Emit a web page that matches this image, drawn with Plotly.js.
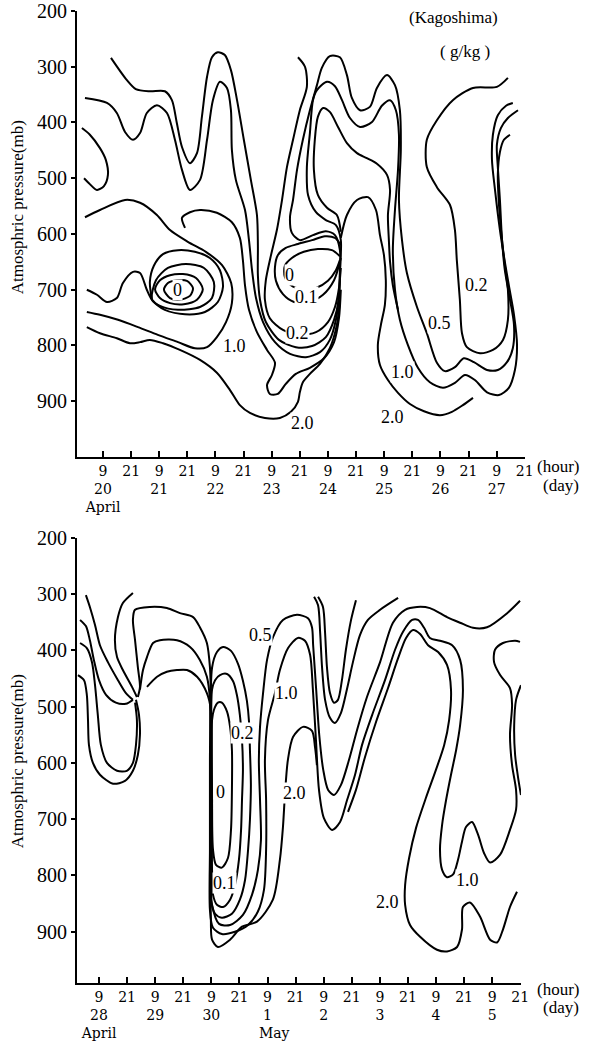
<!DOCTYPE html>
<html>
<head>
<meta charset="utf-8">
<script src="https://cdn.plot.ly/plotly-3.0.1.min.js"></script>
<style>
  html, body { margin: 0; padding: 0; background: #fff; }
  #chart { width: 597px; height: 1046px; }
</style>
</head>
<body>
<div id="chart"></div>
<script>
// Mixing ratio isolines (g/kg) over Kagoshima.
// x: hours counted from 00h of the first day of each panel (20 Apr / 28 Apr)
// y: pressure in mb

// ---------- panel 1 : 20 - 27 April ----------
const a1_h = [12.4,19.2,23.0,29.0,35.4,38.4,40.5,42.7,46.1,49.1,51.2,53.4,55.5,58.0,61.0,63.6,66.2,69.1,72.1,74.7,75.1,75.1,76.0,78.5,84.1,91.3,98.2,104.1,107.6,109.7,110.1,110.1,108.0,104.1,98.6,93.0,89.6,88.8,90.1,91.8,94.3,97.3,100.3,102.4,105.8,110.1,113.1,115.2,118.7,122.9,125.9,130.2,133.6,135.7,136.1,135.3,136.6,138.7,143.0,147.2,151.5,154.9,159.2,163.0,167.3,172.9,177.5,181.4,183.9,184.4,182.7,180.5,179.3,178.4,177.5,177.1,178.8,181.8,186.1];
const a1_p = [284,324,340,344,344,360,401,444,473,455,390,318,283,274,279,306,360,431,503,566,620,674,718,758,790,803,801,785,754,715,679,629,602,595,602,611,598,570,539,485,431,378,333,302,281,283,315,356,378,372,338,315,333,378,449,539,611,670,731,778,831,846,839,823,830,844,844,830,805,763,718,665,611,539,480,440,410,392,378];

const b1_h = [1.3,10.7,14.9,18.4,21.8,24.8,27.7,32.0,36.3,39.7,42.7,46.1,50.4,53.4,55.9,58.9,61.9,63.6,64.0,65.7,69.6,71.3,72.6,74.3,77.3,82.4,88.8,95.6,101.6,105.8,108.4,109.7,110.1,110.5,108.4,104.1,99.9,96.5,96.0,97.3,98.6,100.3,104.6,108.0,111.0,114.4,118.7,123.8,128.0,131.5,134.0,135.3,134.9,133.6,132.7,133.6,135.7,139.1,143.4,148.5,154.1,159.2,163.5,167.7,172.9,178.0,182.2,184.8,185.7,184.4,182.2,180.5,178.4,176.3,175.0,175.4,177.5,181.0,183.9];
const b1_p = [356,365,383,417,431,419,383,369,383,431,485,521,503,431,360,327,338,378,449,503,557,611,665,715,758,794,815,821,812,790,754,710,665,611,584,575,561,530,480,419,360,342,327,335,360,392,408,399,370,360,378,422,485,557,629,700,754,799,840,866,876,867,853,862,884,889,876,844,799,745,692,650,593,521,467,422,387,370,365];

const hook1_h = [0,3.4,7.7,10.2,11.1,9.4,6.4,3.0,0.9];
const hook1_p = [410,422,446,467,494,514,521,509,500];

const ring1_h = [1.3,7.7,18.4,24.8,32.0,37.6,45.2,52.9,59.8,63.7,64.0,61.5,57.6,53.4,48.2,41.0,32.4,23.9,15.4,7.7,2.1];
const ring1_p = [570,557,539,544,566,593,614,632,656,688,724,758,785,803,805,794,781,767,754,745,740];

const tongue1_h = [44.0,42.7,46.1,50.4,57.6,64.0,67.4,68.7,69.6,71.3,74.7,79.0,82.4,81.1,79.0,80.2,83.6,87.0,91.3,97.3,103.3,107.6,109.7,110.5];
const tongue1_p = [589,571,561,557,562,579,607,647,692,736,776,808,831,853,871,887,887,869,851,840,823,794,751,700];

const wrap1_h = [2.1,6.4,10.7,14.9,17.5,21.8,24.8,27.7,29.9,35.4,44.0,52.5,58.0,60.2,58.9,54.6,48.2,41.0,34.6,30.7,29.0,29.9];
const wrap1_p = [700,709,722,715,688,668,670,700,718,736,744,740,722,695,665,643,632,629,636,657,686,718];

const cellC_h = [29.9,31.6,36.7,44.4,52.1,56.3,55.5,50.4,41.0,33.3,29.9];
const cellC_p = [718,683,661,654,661,686,715,731,736,729,718];
const cellB_h = [31.2,33.3,37.6,43.1,48.7,51.6,49.1,43.5,37.6,33.3,31.2];
const cellB_p = [699,683,674,672,679,699,718,726,724,715,699];
const cellA_h = [35.0,36.7,40.5,44.8,47.4,46.1,41.8,37.6,35.0];
const cellA_p = [700,688,683,684,697,711,718,715,700];

const dry0_h = [110.1,106.7,100.7,94.7,89.6,86.6,86.6,89.2,93.9,99.9,105.0,108.4,110.1];
const dry0_p = [640,629,627,632,643,657,677,692,699,697,684,665,647];
const dry01_h = [110.5,108.0,103.7,98.2,92.2,87.0,83.6,82.4,82.8,85.8,90.5,96.9,102.9,107.6,110.5];
const dry01_p = [620,607,604,611,618,625,638,659,684,708,722,722,709,683,643];
const dry02_h = [92.2,95.2,96.0,93.0,90.1,87.5,85.4,83.2,80.7,78.5,78.1,80.2,85.8,93.0,99.9,105.0,108.0,109.7,110.5];
const dry02_p = [283,300,336,378,431,480,539,593,638,683,718,751,772,781,776,758,731,697,661];

const peak3_h = [134.9,132.7,131.5,131.0,130.6,131.5,130.2,125.9,121.6,117.4,113.1,109.3,105.8,102.9,100.7,99.4,99.0,100.7,104.6,108.8,110.5];
const peak3_p = [736,692,650,611,566,521,494,474,464,455,437,408,381,374,390,431,485,530,553,566,596];

const wet1_h = [2.1,7.7,14.9,20.5,24.8,29.0,34.6,41.8,50.4,57.6,63.2,67.4,71.7,78.1,84.5,89.2,92.2,93.0,94.3,97.3,101.6,105.8,108.8,110.1];
const wet1_p = [767,778,787,796,794,790,796,808,826,849,880,907,921,930,930,919,901,884,866,851,833,805,763,718];

const wet2_h = [110.5,113.1,117.4,122.1,125.5,127.2,128.9,129.7,129.3,127.6,126.3,127.2,130.6,134.9,140.0,146.0,152.8,157.9,162.6,166.9];
const wet2_p = [607,566,539,534,557,602,638,683,727,763,799,835,862,885,905,918,925,919,907,894];

const east02_h = [181.8,177.1,166.9,158.3,151.5,147.2,147.2,151.5,157.1,159.2,160.0,161.3,162.2,164.3,169.9,175.4,179.7,181.8,181.8,180.5,179.3,178.0,177.5,178.4,180.1,182.7];
const east02_p = [320,336,338,360,396,431,480,516,548,593,647,718,778,803,814,808,790,754,700,656,611,548,494,453,431,422];

const labels1_text = ['0','0','0.1','0.2','1.0','2.0','0.2','0.5','1.0','2.0'];
const labels1_h = [41.0,88.8,96.0,91.8,65.3,94.3,168.6,152.8,137.0,132.7];
const labels1_p = [700,674,713,777,801,939,692,760,848,928];

// ---------- panel 2 : 28 April - 5 May ----------
const v1_h = [3.4,5.1,7.3,9.4,12.8,17.1,20.5,23.5];
const v1_p = [302,323,355,391,421,453,476,488];
const v2_h = [23.5,19.2,17.1,15.8,16.7,19.2,23.1,25.2];
const v2_p = [298,316,341,382,412,435,465,483];
const v3_h = [0.9,3.4,5.1,6.8,9.0,12.0,16.2,20.5,23.5];
const v3_p = [346,357,382,417,453,479,493,495,488];
const v4_h = [0.9,3.8,6.0,7.3,8.5,9.8,12.4,16.7,20.9,23.5,24.8,25.2,24.4];
const v4_p = [387,396,421,462,515,568,600,614,614,600,568,524,493];
const v5_h = [0,2.6,3.8,4.3,4.7,6.4,9.4,15.0,20.1,23.5,25.6,26.5,26.1,24.8];
const v5_p = [444,453,479,524,568,600,621,637,632,614,586,550,515,488];

const half_h = [25.6,26.5,25.6,24.4,23.5,24.4,30.8,38.0,43.6,49.2,52.1,55.1,56.4,56.8,56.8,56.8,56.8,57.3,60.3,65.0,70.5,74.4,76.9,78.2,77.8,77.3,77.8,79.1,80.8,83.4,87.6,93.6,98.3,100.0,100.5,101.8,103.1,104.8,106.9,109.4,112.4,115.8,119.3,123.5,129.1,134.6,139.8,144.9,150.4,157.7,163.3,168.8,174.8,183.4,188.9];
const half_p = [483,465,430,382,346,328,323,325,334,341,359,387,430,488,595,701,808,852,886,888,870,834,790,737,666,595,536,476,417,376,346,337,343,359,391,470,550,612,648,657,639,595,541,483,421,351,328,323,325,341,351,360,359,334,312];

const one_h = [26.5,27.8,29.5,32.1,35.0,42.3,47.9,52.1,55.1,56.4,56.4,56.4,56.4,57.7,61.5,67.1,72.7,76.9,79.5,80.4,80.4,79.9,81.2,84.2,86.3,89.8,94.0,97.0,99.2,100.4,101.7,103.0,105.1,108.6,112.0,115.0,118.4,121.4,125.7,131.2,135.5,138.9,142.8,145.3,147.9,150.4,154.7,159.9,163.3,164.5,163.3,161.6,159.4,157.3,155.6,154.7,155.6,157.7,160.3,162.4,164.1,165.8,168.4,171.0,173.5,176.1,180.4,184.6,187.2,187.2,185.5,184.6,185.5,184.6,180.4,177.8,178.2,181.6,186.8,188.9];
const one_p = [470,435,412,387,382,382,394,417,447,488,595,754,861,893,904,900,888,864,825,754,666,595,524,476,435,396,378,383,408,470,559,648,698,719,705,666,621,568,515,453,399,367,346,346,360,378,383,391,417,470,533,577,621,666,710,754,790,803,798,772,740,714,705,728,760,777,763,719,683,648,604,550,497,467,444,421,399,387,383,385];

const two_h = [29.5,33.8,38.0,42.3,46.6,50.9,55.1,56.8,56.8,56.8,57.3,59.8,65.0,70.1,76.5,83.3,86.3,87.6,88.5,89.7,91.9,96.2,100.0,101.3,102.1];
const two_p = [465,447,438,435,435,447,476,506,666,879,914,927,914,891,882,843,772,714,653,595,554,536,543,572,604];

const twoEast_h = [115.4,118.8,122.7,127.4,132.5,136.8,140.2,143.2,146.2,149.6,153.9,157.7,159.4,158.6,156.5,153.0,148.7,144.5,141.5,139.8,139.8,141.9,146.2,153.4,157.7,162.0,164.1,164.5,167.5,171.8,176.1,179.1,181.6,184.6,187.6];
const twoEast_p = [687,648,589,527,467,414,378,364,371,391,403,426,470,524,568,612,662,715,769,817,852,888,909,932,935,927,896,856,848,873,914,919,896,856,829];

const notchA_h = [102.6,104.7,105.6,106.4,107.7,109.4,111.1,112.8,114.5,116.7,118.8];
const notchA_p = [305,323,369,430,476,493,488,453,399,346,311];
const notchB_h = [100.9,102.6,103.5,104.3,105.6,107.7,109.8,112.4,114.9,117.5,120.5,123.9,129.1,136.8];
const notchB_p = [305,320,369,430,488,520,529,511,470,421,373,346,328,307];

const pk0_h = [57.3,58.1,59.8,61.5,63.7,65.0,65.8,65.8,65.4,64.1,61.5,59.0,57.7,57.3,57.3];
const pk0_p = [524,506,493,493,509,536,577,648,719,769,786,781,754,666,524];
const pk01_h = [57.3,58.6,60.7,63.7,66.3,67.9,69.2,70.1,70.5,70.1,69.7,68.8,67.1,65.0,62.0,59.4,57.7,57.3,57.3,57.3];
const pk01_p = [470,453,444,442,455,479,515,559,612,666,719,772,817,843,856,852,834,790,666,470];
const pk02_h = [57.3,59.4,62.0,65.4,68.4,70.5,72.2,73.1,73.5,73.9,73.5,72.7,71.4,69.2,65.8,61.5,58.6,56.8,56.8,57.3];
const pk02_p = [431,403,394,401,424,454,490,527,577,639,701,754,808,843,868,875,868,843,666,431];

const edge_h = [189.3,187.2,186.4,186.8,188.1,189.3];
const edge_p = [462,488,533,586,627,657];

const labels2_text = ['0.5','1.0','0.2','0','2.0','0.1','2.0','1.0'];
const labels2_h = [77.8,89.3,70.1,60.7,92.7,62.8,132.1,166.3];
const labels2_p = [373,476,547,651,653,813,847,808];

// ---------- axis labels ----------
const hourTicks = [9,21,33,45,57,69,81,93,105,117,129,141,153,165,177,189];
const ticks1 = ['9<br>20<br>April','21','9<br>21','21','9<br>22','21','9<br>23','21','9<br>24','21','9<br>25','21','9<br>26','21','9<br>27','21'];
const ticks2 = ['9<br>28<br>April','21','9<br>29','21','9<br>30','21','9<br>1<br>&nbsp;&nbsp;&nbsp;May','21','9<br>2','21','9<br>3','21','9<br>4','21','9<br>5','21'];
const pressTicks = [200,300,400,500,600,700,800,900];

const SERIF = 'Liberation Serif';
const TICKSERIF = 'DejaVu Serif';

function iso(h, p, panel) {
  return {
    x: h, y: p, mode: 'lines', hoverinfo: 'skip',
    xaxis: panel === 1 ? 'x' : 'x2', yaxis: panel === 1 ? 'y' : 'y2',
    line: { color: '#000', width: 2, shape: 'spline', smoothing: 0.8 }
  };
}

const traces = [
  iso(a1_h, a1_p, 1), iso(b1_h, b1_p, 1), iso(hook1_h, hook1_p, 1),
  iso(ring1_h, ring1_p, 1), iso(tongue1_h, tongue1_p, 1), iso(wrap1_h, wrap1_p, 1),
  iso(cellC_h, cellC_p, 1), iso(cellB_h, cellB_p, 1), iso(cellA_h, cellA_p, 1),
  iso(dry0_h, dry0_p, 1), iso(dry01_h, dry01_p, 1), iso(dry02_h, dry02_p, 1),
  iso(peak3_h, peak3_p, 1), iso(wet1_h, wet1_p, 1), iso(wet2_h, wet2_p, 1),
  iso(east02_h, east02_p, 1),
  iso(v1_h, v1_p, 2), iso(v2_h, v2_p, 2), iso(v3_h, v3_p, 2), iso(v4_h, v4_p, 2), iso(v5_h, v5_p, 2),
  iso(half_h, half_p, 2), iso(one_h, one_p, 2), iso(two_h, two_p, 2), iso(twoEast_h, twoEast_p, 2),
  iso(notchA_h, notchA_p, 2), iso(notchB_h, notchB_p, 2),
  iso(pk0_h, pk0_p, 2), iso(pk01_h, pk01_p, 2), iso(pk02_h, pk02_p, 2),
  iso(edge_h, edge_p, 2)
];

const annotations = [];
labels1_text.forEach((t, i) => annotations.push({
  text: t, x: labels1_h[i], y: labels1_p[i], xref: 'x', yref: 'y', showarrow: false,
  bgcolor: '#fff', borderpad: 0, font: { family: SERIF, size: 18, color: '#000' }
}));
labels2_text.forEach((t, i) => annotations.push({
  text: t, x: labels2_h[i], y: labels2_p[i], xref: 'x2', yref: 'y2', showarrow: false,
  bgcolor: '#fff', borderpad: 0, font: { family: SERIF, size: 18, color: '#000' }
}));

const yTitle = 'Atmosphric pressure(mb)';
[0.798, 0.228].forEach(y => annotations.push({
  text: yTitle, textangle: -90, xref: 'paper', yref: 'paper', x: -0.134, y: y,
  xanchor: 'center', yanchor: 'middle', showarrow: false,
  font: { family: SERIF, size: 17, color: '#000' }
}));
annotations.push({ text: '(Kagoshima)', xref: 'paper', yref: 'paper', x: 0.8415, y: 0.9938,
  xanchor: 'center', yanchor: 'middle', showarrow: false, font: { family: SERIF, size: 17, color: '#000' } });
annotations.push({ text: '( g/kg )', xref: 'paper', yref: 'paper', x: 0.866, y: 0.958,
  xanchor: 'center', yanchor: 'middle', showarrow: false, font: { family: SERIF, size: 17, color: '#000' } });
[[0.531, 0.512], [-0.0072, -0.0247]].forEach(([yh, yd]) => {
  annotations.push({ text: '(hour)', xref: 'paper', yref: 'paper', x: 1.022, y: yh, xanchor: 'left', yanchor: 'middle',
    showarrow: false, font: { family: SERIF, size: 17, color: '#000' } });
  annotations.push({ text: '(day)', xref: 'paper', yref: 'paper', x: 1.036, y: yd, xanchor: 'left', yanchor: 'middle',
    showarrow: false, font: { family: SERIF, size: 17, color: '#000' } });
});

const xBase = {
  tickmode: 'array', tickvals: hourTicks, tickangle: 0, ticks: 'inside', ticklen: 6, tickwidth: 2, tickcolor: '#000',
  showline: true, linewidth: 2, linecolor: '#000', showgrid: false, zeroline: false,
  tickfont: { family: TICKSERIF, size: 14, color: '#000' }, fixedrange: true
};
const yBase = {
  tickmode: 'array', tickvals: pressTicks, ticks: 'outside', ticklen: 4, tickwidth: 2, tickcolor: '#000',
  showline: true, linewidth: 2, linecolor: '#000', showgrid: false, zeroline: false,
  tickfont: { family: SERIF, size: 20, color: '#000' }, fixedrange: true
};

const layout = {
  width: 597, height: 1046,
  margin: { l: 77, r: 72, t: 11, b: 63 },
  paper_bgcolor: '#fff', plot_bgcolor: '#fff', showlegend: false,
  xaxis: Object.assign({}, xBase, { domain: [0, 1], anchor: 'y', range: [-2.1, 189.1], ticktext: ticks1 }),
  yaxis: Object.assign({}, yBase, { domain: [0.5412, 1], anchor: 'x', range: [1000, 200] }),
  xaxis2: Object.assign({}, xBase, { domain: [0, 0.991], anchor: 'y2', range: [-0.4, 189.3], ticktext: ticks2 }),
  yaxis2: Object.assign({}, yBase, { domain: [0, 0.4581], anchor: 'x2', range: [991, 200] }),
  annotations: annotations
};

Plotly.newPlot('chart', traces, layout, { displayModeBar: false, staticPlot: true });
</script>
</body>
</html>
